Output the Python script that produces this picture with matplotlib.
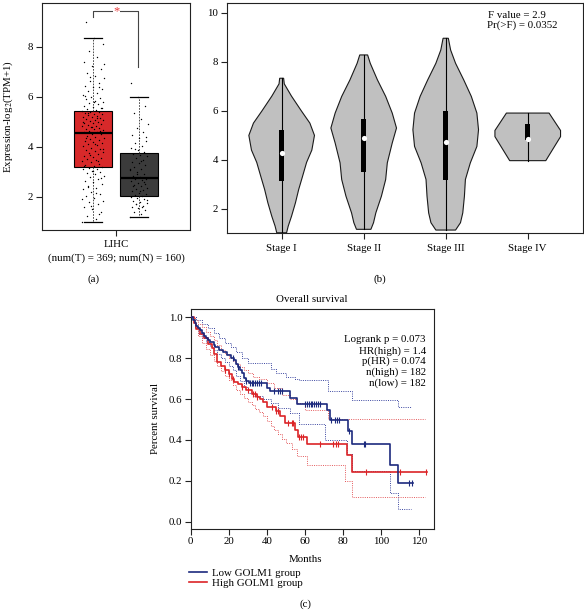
import numpy as np
import matplotlib
matplotlib.use('Agg')
import matplotlib.pyplot as plt
from matplotlib.lines import Line2D

plt.rcParams['font.family'] = ['Liberation Serif', 'DejaVu Serif']
plt.rcParams['mathtext.fontset'] = 'stix'
FS = 7.8
plt.rcParams['font.size'] = FS

# ---------------- data: panel (a) ----------------
groups_a = ['Tumor', 'Normal']
box_med = [4.55, 2.75]
box_q1 = [3.2, 2.05]
box_q3 = [5.45, 3.75]
box_lo = [1.0, 1.2]
box_hi = [8.35, 6.0]
tumor_pts = [1.0, 1.1, 1.25, 1.4, 1.5, 1.6, 1.7, 1.78, 1.85, 1.95, 2.05, 2.1, 2.2, 2.3, 2.35,
             2.45, 2.5, 2.6, 2.65, 2.7, 2.8, 2.85, 2.9, 2.95, 3.0, 3.05, 3.1, 3.12, 3.15, 3.18,
             3.22, 3.28, 3.33, 3.38, 3.42, 3.47, 3.52, 3.56, 3.6, 3.65, 3.7, 3.74, 3.79, 3.83, 3.88,
             3.92, 3.97, 4.02, 4.06, 4.1, 4.15, 4.2, 4.24, 4.28, 4.32, 4.37, 4.41, 4.45, 4.5, 4.53,
             4.58, 4.61, 4.64, 4.67, 4.7, 4.73, 4.76, 4.79, 4.82, 4.85, 4.88, 4.91, 4.94, 4.97, 5.0,
             5.03, 5.06, 5.09, 5.12, 5.15, 5.18, 5.21, 5.24, 5.27, 5.3, 5.33, 5.36, 5.39, 5.41, 5.44,
             5.48, 5.52, 5.56, 5.6, 5.65, 5.7, 5.75, 5.8, 5.85, 5.9, 5.95, 6.0, 6.08, 6.15, 6.22,
             6.3, 6.38, 6.45, 6.55, 6.65, 6.75, 6.85, 6.95, 7.1, 7.25, 7.4, 7.6, 7.85, 8.1, 8.35, 9.0,
             1.3, 1.65, 1.9, 2.15, 2.4, 2.75, 3.02, 3.25, 3.45, 3.68, 3.9, 4.12, 4.35, 4.62, 4.8,
             4.99, 5.17, 5.35, 5.55, 5.78, 6.05, 6.4, 6.8, 7.3]
normal_pts = [1.2, 1.3, 1.4, 1.48, 1.55, 1.6, 1.65, 1.7, 1.75, 1.8, 1.85, 1.9, 1.95, 2.0, 2.03,
              2.08, 2.12, 2.17, 2.22, 2.27, 2.32, 2.37, 2.42, 2.47, 2.52, 2.57, 2.62, 2.66, 2.7, 2.73,
              2.78, 2.85, 2.92, 2.99, 3.06, 3.13, 3.2, 3.27, 3.34, 3.41, 3.48, 3.55, 3.62, 3.68, 3.73,
              3.8, 3.88, 3.96, 4.05, 4.15, 4.25, 4.35, 4.48, 4.6, 4.75, 4.9, 5.1, 5.35, 5.65, 6.0, 6.55,
              1.58, 1.72, 1.88, 2.25, 2.45, 2.6, 2.9, 3.1, 3.45, 3.9, 4.4]

# ---------------- data: panel (b) ----------------
stages = ['Stage I', 'Stage II', 'Stage III', 'Stage IV']
vio_y = [
    [1.03, 1.3, 1.7, 2.25, 2.8, 3.3, 3.9, 4.4, 5.0, 5.5, 6.0, 6.6, 7.1, 7.33],
    [1.17, 1.44, 1.84, 2.52, 3.2, 3.88, 4.69, 5.3, 5.91, 6.59, 7.26, 7.94, 8.28],
    [1.14, 1.44, 1.84, 2.52, 3.2, 3.88, 4.55, 5.23, 5.91, 6.59, 7.26, 7.94, 8.48, 8.96],
    [3.97, 4.95, 5.2, 5.91],
]
vio_w = [
    [0.15, 0.2, 0.3, 0.42, 0.52, 0.63, 0.76, 0.92, 1.0, 0.86, 0.6, 0.3, 0.08, 0.06],
    [0.22, 0.30, 0.37, 0.54, 0.67, 0.72, 0.87, 1.0, 0.87, 0.67, 0.42, 0.20, 0.12],
    [0.30, 0.45, 0.52, 0.57, 0.60, 0.75, 0.95, 1.0, 0.95, 0.78, 0.55, 0.30, 0.15, 0.08],
    [0.55, 1.0, 1.0, 0.65],
]
st_q1 = [3.13, 3.5, 3.17, 4.8]
st_med = [4.28, 4.89, 4.72, 4.85]
st_q3 = [5.23, 5.68, 5.98, 5.45]

# ---------------- data: panel (c) ----------------
low_t = [0, 1, 2, 3, 4, 5, 6, 7, 8, 9, 10, 12, 13, 15, 17, 19, 21, 23, 24, 25, 26, 27, 28, 29,
         30.5, 40, 41.5, 52, 56, 71.5, 73, 82.5, 85, 105, 109]
low_s = [1.0, 0.985, 0.97, 0.955, 0.945, 0.935, 0.925, 0.91, 0.90, 0.89, 0.88, 0.865, 0.855, 0.84,
         0.83, 0.815, 0.80, 0.79, 0.77, 0.755, 0.74, 0.725, 0.705, 0.69, 0.677, 0.655, 0.638, 0.605,
         0.576, 0.545, 0.50, 0.445, 0.38, 0.28, 0.19]
low_end = 117
high_t = [0, 1.5, 3, 5, 7, 9, 11, 12.5, 14, 16, 18, 20, 21.5, 23, 25, 27, 29, 32, 35, 36.5, 38,
          40, 45, 47, 49.5, 55, 56.5, 61, 82, 84.7]
high_s = [1.0, 0.97, 0.94, 0.92, 0.90, 0.87, 0.85, 0.82, 0.78, 0.76, 0.74, 0.72, 0.70, 0.685,
          0.675, 0.66, 0.643, 0.625, 0.61, 0.60, 0.585, 0.56, 0.54, 0.515, 0.485, 0.45, 0.415,
          0.382, 0.325, 0.245]
high_end = 124
low_cens = [22, 25, 29, 31, 32, 33, 34, 35, 36, 37, 44, 46, 47, 48, 60, 61, 62, 63, 64, 65, 66,
            67, 68, 74, 76, 77, 78, 83, 91, 91.5, 115, 116.5]
high_cens = [18, 20, 22, 27, 30, 33, 34, 35, 43, 45, 46, 51, 53, 54, 57, 58, 59, 68, 75, 76.5,
             77.5, 92, 110, 123.5]
low_up_t = [0, 3, 6, 9, 12, 15, 18, 21, 24, 27, 30, 42, 45, 50, 55, 57, 72, 85, 109]
low_up_s = [1.0, 0.985, 0.965, 0.945, 0.925, 0.90, 0.875, 0.855, 0.83, 0.80, 0.775, 0.745, 0.725,
            0.71, 0.70, 0.693, 0.64, 0.595, 0.562]
low_lo_t = [0, 2, 4, 6, 8, 10, 12, 14, 16, 18, 20, 22, 24, 26, 28, 30, 33, 38, 42, 46, 52, 57,
            70.5, 82, 85, 105, 109]
low_lo_s = [1.0, 0.95, 0.92, 0.90, 0.88, 0.86, 0.84, 0.82, 0.80, 0.78, 0.76, 0.74, 0.715, 0.69,
            0.66, 0.63, 0.615, 0.60, 0.58, 0.555, 0.53, 0.48, 0.40, 0.33, 0.25, 0.14, 0.065]
high_up_t = [0, 2, 4, 6, 8, 10, 12, 14, 16, 18, 20, 22, 24, 26, 28, 30, 33, 36, 40, 44, 48, 52,
             56, 60, 72.3]
high_up_s = [1.0, 0.985, 0.965, 0.95, 0.93, 0.91, 0.89, 0.865, 0.84, 0.82, 0.80, 0.785, 0.77,
             0.755, 0.74, 0.725, 0.71, 0.70, 0.68, 0.655, 0.62, 0.60, 0.58, 0.546, 0.503]
high_lo_t = [0, 2, 4, 6, 8, 10, 12, 14, 16, 18, 20, 22, 24, 26, 28, 30, 32, 34, 36, 38, 40, 42,
             44, 46, 48, 50, 53, 56, 61, 81, 85]
high_lo_s = [1.0, 0.95, 0.91, 0.875, 0.845, 0.815, 0.785, 0.76, 0.735, 0.715, 0.695, 0.67,
             0.645, 0.625, 0.605, 0.585, 0.57, 0.55, 0.535, 0.515, 0.495, 0.47, 0.45, 0.43,
             0.405, 0.385, 0.355, 0.32, 0.28, 0.20, 0.123]
stats_c = ['Logrank p = 0.073', 'HR(high) = 1.4', 'p(HR) = 0.074', 'n(high) = 182', 'n(low) = 182']

# ---------------- figure ----------------
W, H = 584, 615
fig = plt.figure(figsize=(W / 100, H / 100), dpi=100)


def box(l, t, r, b):
    return [l / W, 1 - b / H, (r - l) / W, (b - t) / H]


def fp(x, y):
    return (x / W, 1 - y / H)


def style_axes(ax):
    for s in ax.spines.values():
        s.set_linewidth(0.8)
        s.set_color('#222222')
    ax.tick_params(length=4, width=0.8, labelsize=FS, color='#222222', pad=2)


# ---- (a) ----
axa = fig.add_axes(box(41.7, 3, 190, 230))
axa.set_xlim(0, 1)
axa.set_ylim(0.67, 9.75)
pos_a = [0.346, 0.655]
cols_a = ['#d7292a', '#3b3b3b']
stats = [dict(med=box_med[i], q1=box_q1[i], q3=box_q3[i], whislo=box_lo[i], whishi=box_hi[i],
              fliers=[], label=groups_a[i]) for i in range(2)]
bp = axa.bxp(stats, positions=pos_a, widths=0.254, patch_artist=True, showfliers=False,
             capwidths=0.12,
             medianprops=dict(color='black', lw=1.6),
             whiskerprops=dict(color='#333333', lw=0.6, linestyle=(0, (2, 1.5))),
             capprops=dict(color='black', lw=0.9),
             boxprops=dict(edgecolor='black', lw=0.8), manage_ticks=False)
for patch, c in zip(bp['boxes'], cols_a):
    patch.set_facecolor(c)
gold = 0.6180339887
for pts, p, jw in [(tumor_pts, pos_a[0], 0.075), (normal_pts, pos_a[1], 0.06)]:
    n = len(pts)
    offs = np.array([((i * gold) % 1.0 - 0.5) * 2 * jw for i in range(n)])
    axa.scatter(p + offs, pts, s=1.0, color='black', lw=0, zorder=5)
axa.plot([pos_a[0], pos_a[0], 0.649, 0.649], [9.2, 9.43, 9.43, 7.2], color='#444444', lw=0.8)
axa.text(0.506, 9.43, '*', color='#e8383a', ha='center', va='center', fontsize=9,
         bbox=dict(facecolor='white', edgecolor='none', pad=0.3))
axa.set_yticks([2, 4, 6, 8])
axa.set_xticks([0.5])
axa.set_xticklabels(['LIHC'])
style_axes(axa)
axa.tick_params(axis='x', pad=3)
fig.text(*fp(8, 117), 'Expression-log$_2$(TPM+1)', rotation=90, ha='center', va='center', fontsize=FS)
fig.text(*fp(116, 258), '(num(T) = 369; num(N) = 160)', ha='center', va='center', fontsize=FS)
fig.text(*fp(94, 279), '(a)', ha='center', va='center', fontsize=FS)

# ---- (b) ----
axb = fig.add_axes(box(226.7, 2.7, 582.7, 233))
axb.set_xlim(0.33, 4.67)
axb.set_ylim(1.02, 10.41)
for i in range(4):
    p = i + 1
    y = np.array(vio_y[i])
    w = np.array(vio_w[i]) * 0.4
    xs = np.concatenate([p + w, (p - w)[::-1]])
    ys = np.concatenate([y, y[::-1]])
    axb.fill(xs, ys, facecolor='#c0c0c0', edgecolor='#1a1a1a', lw=0.8, zorder=2)
    axb.plot([p, p], [y[0], y[-1]], color='black', lw=0.8, zorder=3)
    axb.bar(p, st_q3[i] - st_q1[i], bottom=st_q1[i], width=0.065, color='black', zorder=4)
    axb.scatter([p], [st_med[i]], s=14, color='white', lw=0, zorder=5)
axb.set_xticks([1, 2, 3, 4])
axb.set_xticklabels(stages)
axb.set_yticks([2, 4, 6, 8, 10])
style_axes(axb)
axb.tick_params(axis='x', pad=4)
fig.text(*fp(488, 15), 'F value = 2.9', ha='left', va='center', fontsize=FS)
fig.text(*fp(487, 25), 'Pr(>F) = 0.0352', ha='left', va='center', fontsize=FS)
fig.text(*fp(380, 279), '(b)', ha='center', va='center', fontsize=FS)

# ---- (c) ----
axc = fig.add_axes(box(190.7, 309, 434, 529))
axc.set_xlim(0, 127.9)
axc.set_ylim(-0.035, 1.04)
blue = '#1c2a7e'
red = '#dc2427'


def stepline(ax, t, s, end, **kw):
    tt = list(t) + [end]
    ss = list(s) + [s[-1]]
    return ax.step(tt, ss, where='post', **kw)[0]


dot = (0, (1, 1.3))
stepline(axc, low_up_t, low_up_s, 116, color='#3a45a0', lw=0.7, ls=dot)
stepline(axc, low_lo_t, low_lo_s, 116, color='#3a45a0', lw=0.7, ls=dot)
stepline(axc, high_up_t, high_up_s, 123, color='#e45a5c', lw=0.7, ls=dot)
stepline(axc, high_lo_t, high_lo_s, 123, color='#e45a5c', lw=0.7, ls=dot)
h_low = stepline(axc, low_t, low_s, low_end, color=blue, lw=1.2, zorder=4)
h_high = stepline(axc, high_t, high_s, high_end, color=red, lw=1.2, zorder=3)
for t, s, cens, c in [(low_t, low_s, low_cens, blue), (high_t, high_s, high_cens, red)]:
    idx = np.searchsorted(t, cens, side='right') - 1
    axc.plot(cens, np.array(s)[idx], ls='none', marker='|', ms=5, mew=0.8, color=c, zorder=5)
axc.set_xticks([0, 20, 40, 60, 80, 100, 120])
axc.set_yticks([0.0, 0.2, 0.4, 0.6, 0.8, 1.0])
axc.set_yticklabels(['0.0', '0.2', '0.4', '0.6', '0.8', '1.0'])
style_axes(axc)
for k, s in enumerate(stats_c):
    fig.text(*fp(426, 340 + k * 10.8), s, ha='right', va='center', fontsize=FS)
fig.text(*fp(312, 300), 'Overall survival', ha='center', va='center', fontsize=FS)
fig.text(*fp(155, 419), 'Percent survival', rotation=90, ha='center', va='center', fontsize=FS)
fig.text(*fp(305, 560), 'Months', ha='center', va='center', fontsize=FS)
fig.legend([Line2D([], [], color=blue, lw=1.2), Line2D([], [], color=red, lw=1.2)],
           ['Low GOLM1 group', 'High GOLM1 group'], loc='upper left',
           bbox_to_anchor=fp(189, 568), frameon=False, handlelength=1.7, handletextpad=0.4,
           labelspacing=0.1, borderpad=0, borderaxespad=0, fontsize=FS)
fig.text(*fp(305, 604), '(c)', ha='center', va='center', fontsize=FS)

fig.savefig('out.png', dpi=100)
